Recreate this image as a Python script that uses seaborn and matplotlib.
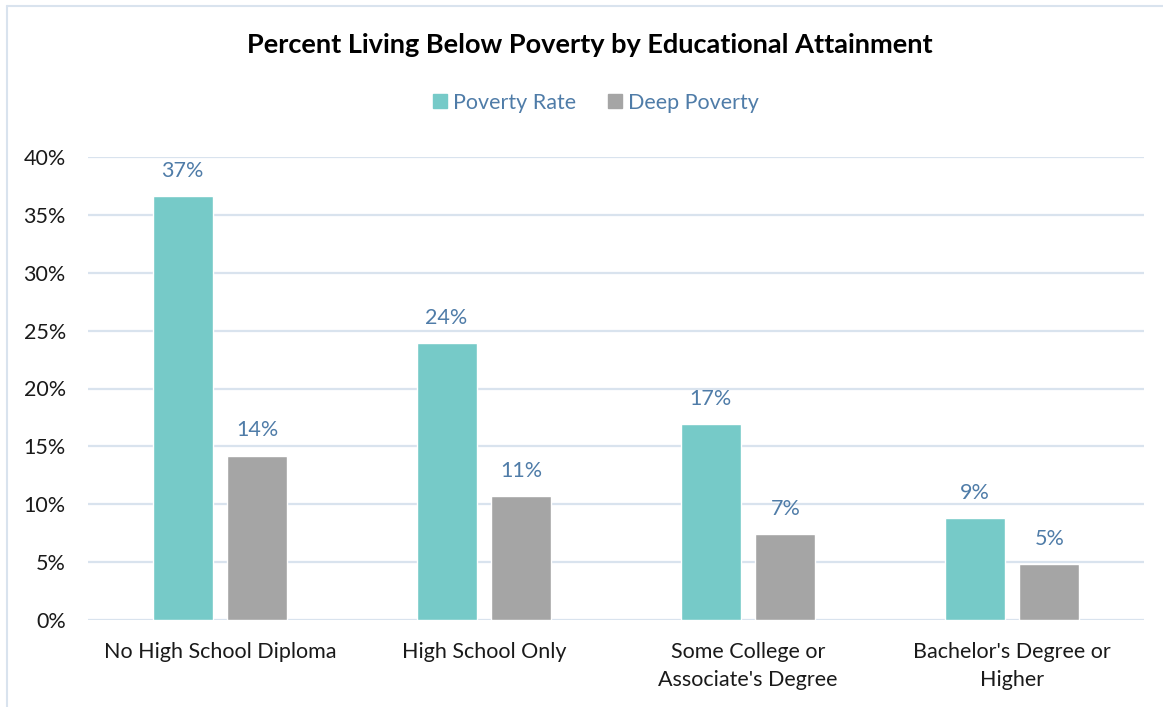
import matplotlib
matplotlib.use("Agg")
import matplotlib.pyplot as plt
from matplotlib.lines import Line2D
import seaborn as sns
import pandas as pd

# Data
categories = ["No High School Diploma", "High School Only",
              "Some College or\nAssociate's Degree", "Bachelor's Degree or\nHigher"]
series_names = ["Poverty Rate", "Deep Poverty"]
poverty_rate = [36.6, 23.9, 16.9, 8.8]
deep_poverty = [14.2, 10.7, 7.4, 4.8]
y_ticks = [0, 5, 10, 15, 20, 25, 30, 35, 40]

df = pd.DataFrame({
    "category": categories * 2,
    "series": [series_names[0]] * 4 + [series_names[1]] * 4,
    "value": poverty_rate + deep_poverty,
})

sns.set_theme(style="white")
plt.rcParams["font.family"] = ["Lato", "DejaVu Sans"]

TEAL = "#76CAC8"
GRAY = "#A5A5A5"
LABEL_BLUE = "#4F7CA8"
GRID = "#D9E3EE"

fig = plt.figure(figsize=(11.63, 7.07), dpi=100)
W, H = 1163, 707
ax = fig.add_axes([88 / W, (H - 620) / H, (1144 - 88) / W, (620 - 157) / H])

sns.barplot(data=df, x="category", y="value", hue="series",
            palette=[TEAL, GRAY], width=0.568, gap=0.2,
            ax=ax, legend=False, saturation=1)

ax.set_ylim(0, 40)
ax.set_xlim(-0.5, 3.5)
ax.set_yticks(y_ticks)
ax.set_yticklabels([f"{t}%" for t in y_ticks])
ax.set_xlabel("")
ax.set_ylabel("")
ax.yaxis.grid(True, color=GRID, linewidth=1.6)
ax.set_axisbelow(True)
for s in ax.spines.values():
    s.set_visible(False)
ax.tick_params(axis="y", length=0, pad=16, labelsize=15.5, labelcolor="#1a1a1a")
ax.tick_params(axis="x", length=0, pad=16, labelsize=15.5, labelcolor="#1a1a1a")
for lbl in ax.get_xticklabels():
    lbl.set_linespacing(1.5)

for cont in ax.containers:
    ax.bar_label(cont, labels=[f"{v:.0f}%" for v in cont.datavalues],
                 padding=11, fontsize=15.5, color=LABEL_BLUE)

# Title
fig.text(590 / W, 1 - 45 / H, "Percent Living Below Poverty by Educational Attainment",
         ha="center", va="center", fontsize=19.5, fontweight="bold", color="#000000")

# Legend
handles = [Line2D([0], [0], marker="s", linestyle="none", markersize=10,
                  markerfacecolor=c, markeredgecolor=c) for c in (TEAL, GRAY)]
leg = fig.legend(handles, series_names, loc="center", bbox_to_anchor=(595 / W, 1 - 103 / H),
                 ncol=2, frameon=False, fontsize=15.5, handletextpad=0.2,
                 columnspacing=1.4, handlelength=0.8)
for t in leg.get_texts():
    t.set_color(LABEL_BLUE)

# Chart-area border
fig.add_artist(Line2D([7 / W, 7 / W], [0, 1 - 6 / H], transform=fig.transFigure,
                      color=GRID, linewidth=1.5))
fig.add_artist(Line2D([7 / W, 1], [1 - 6 / H, 1 - 6 / H], transform=fig.transFigure,
                      color=GRID, linewidth=1.5))

fig.savefig("out.png", dpi=100)
